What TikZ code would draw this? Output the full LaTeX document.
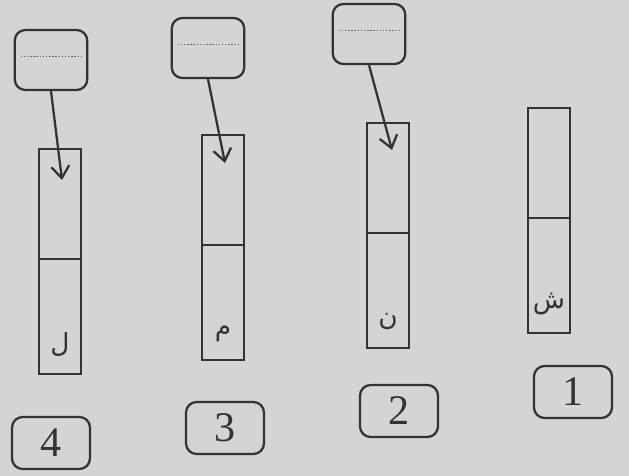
\documentclass[tikz,border=0pt]{standalone}
\usepackage{fontspec}
\setmainfont{Liberation Serif}
\newfontfamily\arabicfont[Script=Arabic]{DejaVu Sans}
\TeXXeTstate=1
\usetikzlibrary{arrows.meta,positioning}
\definecolor{paper}{RGB}{214,211,211}
\definecolor{ink}{RGB}{52,50,50}

\tikzset{
  cell/.style={draw, rectangle, minimum width=0.85cm, inner sep=0pt, outer sep=0pt},
  upcell/.style={cell, minimum height=2.2cm},
  lowcell/.style={cell, minimum height=2.3cm},
  tag/.style={draw, rounded corners=6pt, minimum width=1.45cm, minimum height=1.2cm},
  num/.style={draw, rounded corners=6pt, minimum width=1.56cm, minimum height=1.04cm,
              font=\fontsize{24}{26}\selectfont},
  letter/.style={font=\arabicfont\fontsize{15}{18}\selectfont, inner sep=1pt},
}

\begin{document}
\begin{tikzpicture}[x=0.02cm, y=-0.02cm, line width=1.3pt, color=ink,
                    >={Straight Barb[length=2.4mm,width=3.6mm]}]
        \fill[paper] (0,0) rectangle (629,476);
        % bars
        \node[upcell] (up4) at (60,204) {};
        \node[lowcell, below=0pt of up4] (dn4) {};
        \node[upcell] (up3) at (223,190) {};
        \node[lowcell, below=0pt of up3] (dn3) {};
        \node[upcell] (up2) at (388,178) {};
        \node[lowcell, below=0pt of up2] (dn2) {};
        \node[upcell] (up1) at (549,163) {};
        \node[lowcell, below=0pt of up1] (dn1) {};
        % letters
        \node[letter, above=3mm of dn4.south] (l4) {\beginR ل\endR};
        \node[letter, above=3mm of dn3.south] (l3) {\beginR م\endR};
        \node[letter, above=3mm of dn2.south] (l2) {\beginR ن\endR};
        \node[letter, above=3mm of dn1.south] (l1) {\beginR ش\endR};
        % tags
        \node[tag] (tag4) at (51,60) {};
        \node[tag] (tag3) at (208,48) {};
        \node[tag] (tag2) at (369,34) {};
        \foreach \k in {4,3,2}
            \draw[densely dotted, line width=0.8pt, gray!80!black]
                ([xshift=4pt,yshift=2pt]tag\k.west) -- ([xshift=-4pt,yshift=2pt]tag\k.east);
        % arrows
        \coordinate (tip4) at (62,180);
        \coordinate (tip3) at (225,163);
        \coordinate (tip2) at (392,150);
        \draw[->] (tag4.south) -- (tip4);
        \draw[->] (tag3.south) -- (tip3);
        \draw[->] (tag2.south) -- (tip2);
        % numbers
        \node[num] (n4) at (51,443) {4};
        \node[num] (n3) at (225,428) {3};
        \node[num] (n2) at (399,411) {2};
        \node[num] (n1) at (573,392) {1};
    \end{tikzpicture}
\end{document}
